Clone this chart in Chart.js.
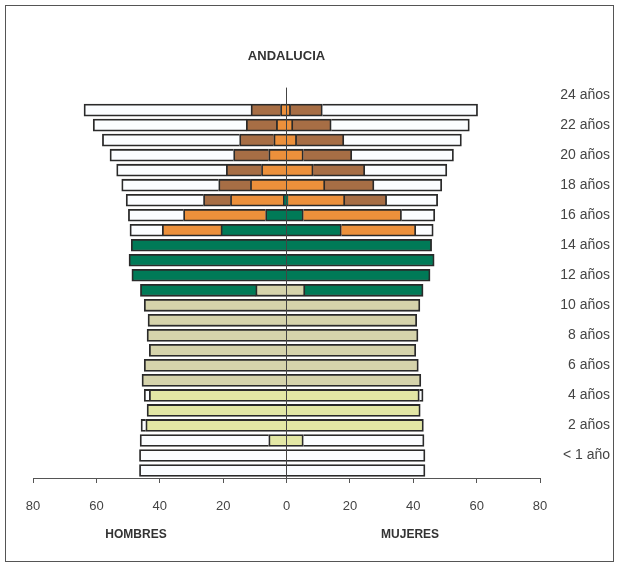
<!DOCTYPE html>
<html>
<head>
<meta charset="UTF-8">
<title>Andalucia</title>
<style>
	body { margin: 0; background: #fff; }
	#marco { position: absolute; left: 5px; top: 5px; width: 609px; height: 557px; border: 1.5px solid #555; box-sizing: border-box; pointer-events: none; }
	#grafico { position: absolute; left: 0; top: 0; }
</style>
</head>
<body>
	<script src="https://cdn.jsdelivr.net/npm/chart.js"></script>

	<canvas id="grafico" width="620" height="567"></canvas>
	<div id="marco"></div>

	<script>
		// filas del eje: edades 0..24 (la fila 25 queda vacía, como en el original)
		const edades = ['0','1','2','3','4','5','6','7','8','9','10','11','12','13','14','15','16','17','18','19','20','21','22','23','24','25'];
		const etiquetasEdad = ['< 1 año','2 años','4 años','6 años','8 años','10 años','12 años','14 años','16 años','18 años','20 años','22 años','24 años'];
		const ticksX = [-80, -60, -40, -20, 0, 20, 40, 60, 80];

		// HOMBRES (edad 0 .. 24)
		const hInfantil  = [0, 0, 5.6, 44.4, 44.0, 43.3, 0, 0, 0, 0, 0, 0, 0, 0, 0, 0, 0, 0, 0, 0, 0, 0, 0, 0, 0];
		const hPrimaria  = [0, 0, 0, 0, 0, 0, 45.6, 44.9, 43.3, 44.0, 43.7, 44.9, 9.7, 0, 0, 0, 0, 0, 0, 0, 0, 0, 0, 0, 0];
		const hESO       = [0, 0, 0, 0, 0, 0, 0, 0, 0, 0, 0, 0, 36.4, 48.8, 49.7, 49.0, 20.7, 6.6, 1.0, 0, 0, 0, 0, 0, 0];
		const hBach      = [0, 0, 0, 0, 0, 0, 0, 0, 0, 0, 0, 0, 0, 0, 0, 0, 18.5, 25.9, 16.7, 11.4, 7.9, 5.6, 4.0, 3.2, 1.9];
		const hUniv      = [0, 0, 0, 0, 0, 0, 0, 0, 0, 0, 0, 0, 0, 0, 0, 0, 0, 0, 8.5, 10.0, 11.1, 11.1, 10.8, 9.5, 9.3];
		const hNoEscol   = [46.4, 46.4, 40.6, 1.5, 0, 1.6, 0, 0, 0, 0, 0, 0, 0, 0, 0, 0, 10.2, 17.4, 24.4, 30.6, 34.6, 39.0, 43.3, 48.3, 52.7];

		// MUJERES (edad 0 .. 24)
		const mInfantil  = [0, 0, 5.3, 43.2, 42.2, 41.9, 0, 0, 0, 0, 0, 0, 0, 0, 0, 0, 0, 0, 0, 0, 0, 0, 0, 0, 0];
		const mPrimaria  = [0, 0, 0, 0, 0, 0, 42.4, 41.6, 40.8, 41.5, 41.1, 42.1, 5.8, 0, 0, 0, 0, 0, 0, 0, 0, 0, 0, 0, 0];
		const mESO       = [0, 0, 0, 0, 0, 0, 0, 0, 0, 0, 0, 0, 37.3, 45.3, 46.6, 45.8, 17.3, 5.3, 0.5, 0, 0, 0, 0, 0, 0];
		const mBach      = [0, 0, 0, 0, 0, 0, 0, 0, 0, 0, 0, 0, 0, 0, 0, 0, 23.5, 31.0, 17.9, 12.1, 8.4, 5.3, 3.2, 2.0, 1.3];
		const mUniv      = [0, 0, 0, 0, 0, 0, 0, 0, 0, 0, 0, 0, 0, 0, 0, 0, 0, 0, 13.2, 15.5, 16.3, 15.3, 14.9, 12.1, 10.0];
		const mNoEscol   = [43.7, 43.7, 38.1, 0, 0, 1.2, 0, 0, 0, 0, 0, 0, 0, 0, 0, 0, 5.5, 10.5, 16.1, 21.4, 25.9, 32.1, 37.1, 43.6, 49.0];

		const colores = {
			infantil: '#e3e7a5',
			primaria: '#d5d3ab',
			eso: '#007a57',
			bach: '#ec903b',
			univ: '#a76e45',
			noEscol: '#fbfdff'
		};

		function serie(nombre, datos, color, negativo){
			return {
				label: nombre,
				data: negativo ? datos.map(v => -v) : datos,
				backgroundColor: color,
				borderColor: '#2a2a2a',
				borderWidth: 1.8,
				barThickness: 12,
				stack: 'todo'
			};
		}

		// textos HOMBRES / MUJERES bajo el eje
		const textoSexo = {
			id: 'textoSexo',
			afterDraw(chart){
				const c = chart.ctx;
				const x = chart.scales.x;
				const y = chart.chartArea.bottom + 57;
				c.save();
				c.font = 'bold 12px "Liberation Sans", Arial, sans-serif';
				c.fillStyle = '#333';
				c.textAlign = 'center';
				c.textBaseline = 'middle';
				c.fillText('HOMBRES', x.getPixelForValue(-47.5), y);
				c.fillText('MUJERES', x.getPixelForValue(39), y);
				c.restore();
			}
		};

		const fondo = {
			id: 'fondo',
			beforeDraw(chart){
				const c = chart.ctx;
				c.save();
				c.fillStyle = '#fff';
				c.fillRect(0, 0, chart.width, chart.height);
				c.restore();
			}
		};

		new Chart(document.getElementById('grafico'), {
			type: 'bar',
			data: {
				labels: edades,
				datasets: [
					serie('Infantil H', hInfantil, colores.infantil, true),
					serie('Primaria H', hPrimaria, colores.primaria, true),
					serie('ESO H', hESO, colores.eso, true),
					serie('Bachillerato H', hBach, colores.bach, true),
					serie('Universidad H', hUniv, colores.univ, true),
					serie('No escolarizado H', hNoEscol, colores.noEscol, true),
					serie('Infantil M', mInfantil, colores.infantil, false),
					serie('Primaria M', mPrimaria, colores.primaria, false),
					serie('ESO M', mESO, colores.eso, false),
					serie('Bachillerato M', mBach, colores.bach, false),
					serie('Universidad M', mUniv, colores.univ, false),
					serie('No escolarizado M', mNoEscol, colores.noEscol, false)
				]
			},
			options: {
				indexAxis: 'y',
				responsive: false,
				animation: false,
				devicePixelRatio: 1,
				layout: { padding: { left: 33, right: 10, top: 0, bottom: 29 } },
				scales: {
					x: {
						stacked: true,
						min: -80,
						max: 80,
						z: 1,
						afterBuildTicks: (s) => { s.ticks = ticksX.map(v => ({ value: v })); },
						afterFit: (s) => { s.height = 60; },
						grid: {
							color: (ctx) => (ctx.tick && ctx.tick.value === 0) ? '#444' : 'rgba(0,0,0,0)',
							tickColor: '#555',
							tickLength: 5,
							lineWidth: 1
						},
						border: { display: true, color: '#555', width: 1 },
						ticks: {
							padding: 16,
							color: '#444',
							font: { size: 13, family: '"Liberation Sans", Arial, sans-serif' },
							callback: (v) => Math.abs(v)
						}
					},
					y: {
						stacked: true,
						reverse: true,
						position: 'right',
						afterFit: (s) => { s.width = 70; },
						grid: { display: false },
						border: { display: false },
						ticks: {
							autoSkip: false,
							crossAlign: 'far',
							padding: 0,
							color: '#444',
							font: { size: 14, family: '"Liberation Sans", Arial, sans-serif' },
							callback: (v, i) => (i % 2 === 1) ? etiquetasEdad[(i - 1) / 2] : ''
						}
					}
				},
				plugins: {
					legend: { display: false },
					tooltip: { enabled: false },
					title: {
						display: true,
						text: 'ANDALUCIA',
						fullSize: false,
						color: '#333',
						font: { size: 13, weight: 'bold', family: '"Liberation Sans", Arial, sans-serif' },
						padding: { top: 49, bottom: 23 }
					}
				}
			},
			plugins: [fondo, textoSexo]
		});
	</script>
</body>
</html>
